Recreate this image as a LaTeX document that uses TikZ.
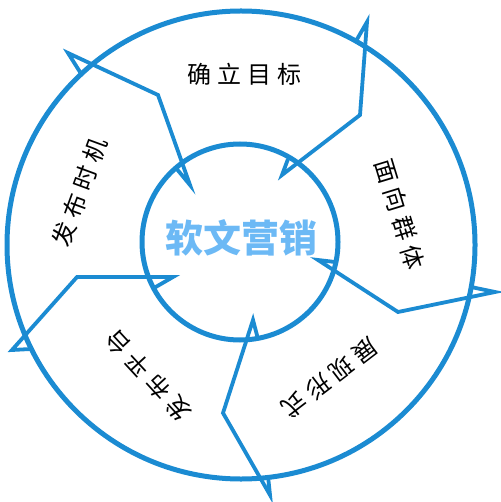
\documentclass[tikz,border=0pt]{standalone}
\usepackage{fontspec}
\usepackage{tikz}
\newfontfamily\cjk{Noto Sans CJK SC}
\definecolor{ringblue}{HTML}{1B8BD2}
\definecolor{hubblue}{HTML}{6CB9F5}
\tikzstyle{ring}=[draw=ringblue,line width=5pt]
\tikzstyle{cut}=[draw=ringblue,line width=3.8pt,line join=miter,miter limit=12]
\tikzstyle{stage}=[font=\cjk\fontsize{24}{24}\selectfont,text=black,inner sep=0pt]
\tikzstyle{hub}=[font=\cjk\bfseries\fontsize{38}{38}\selectfont,text=hubblue,inner sep=0pt]
\newcommand{\chgap}{\hspace{6pt}}

\begin{document}
\begin{tikzpicture}[x=1pt,y=-1pt]
      \useasboundingbox (0,0) rectangle (500,502);
      \coordinate (c) at (241,245);
      \coordinate (ci) at (240,242);
      \draw[ring] (c) circle (234pt);
      \draw[ring] (ci) circle (98pt);
      % outer tip, outer base, bend, inner tip, inner base
      \coordinate (to1) at (68,53);   \coordinate (bo1) at (80,72);
      \coordinate (k1) at (158,95);
      \coordinate (ti1) at (190,185); \coordinate (bi1) at (176,168);
      \coordinate (to2) at (367,22);  \coordinate (bo2) at (356,41);
      \coordinate (k2) at (360,115);
      \coordinate (ti2) at (282,175); \coordinate (bi2) at (288,159);
      \coordinate (to3) at (495,292); \coordinate (bo3) at (471,287);
      \coordinate (k3) at (398,312);
      \coordinate (ti3) at (318,260); \coordinate (bi3) at (335,262);
      \coordinate (to4) at (270,495); \coordinate (bo4) at (268,476);
      \coordinate (k4) at (223,413);
      \coordinate (ti4) at (253,320); \coordinate (bi4) at (258,339);
      \coordinate (to5) at (12,350);  \coordinate (bo5) at (31,349);
      \coordinate (k5) at (77,277);
      \coordinate (ti5) at (173,277); \coordinate (bi5) at (154,288);
      \foreach \i in {1,...,5}
        \draw[cut] (bo\i) -- (to\i) -- (k\i) -- (ti\i) -- (bi\i);
      \node[hub] at (241,238) (hub) {软文营销};
      \node[stage] at (244,74) (goal) {确\chgap 立\chgap 目\chgap 标};
      \node[stage,rotate=-73] at (400,214) (group) {面\chgap 向\chgap 群\chgap 体};
      \node[stage,rotate=-142.6] at (330,378) (form) {展\chgap 现\chgap 形\chgap 式};
      \node[stage,rotate=132.7] at (148,376) (platform) {发\chgap 布\chgap 平\chgap 台};
      \node[stage,rotate=69.8] at (80,192) (timing) {发\chgap 布\chgap 时\chgap 机};
    \end{tikzpicture}
\end{document}
